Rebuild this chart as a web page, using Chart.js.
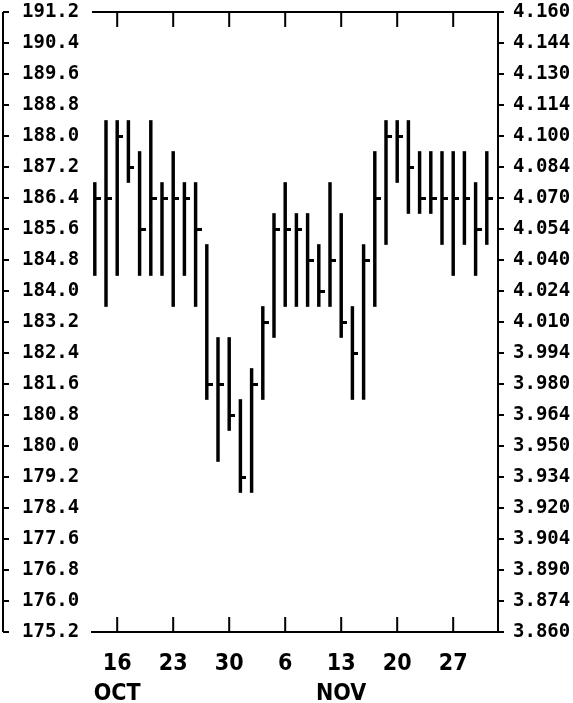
<!DOCTYPE html>
<html>
<head>
<meta charset="utf-8">
<script src="https://cdn.jsdelivr.net/npm/chart.js@4.4.1/dist/chart.umd.min.js"></script>
<style>
  html, body { margin: 0; padding: 0; background: #fff; }
  #wrap { width: 573px; height: 703px; position: relative; }
</style>
</head>
<body>
<div id="wrap"><canvas id="c" width="573" height="703"></canvas></div>
<script>
// Trading days (categories)
const days = ['10-12','10-13','10-16','10-17','10-18','10-19','10-20','10-23','10-24','10-25',
              '10-26','10-27','10-30','10-31','11-01','11-02','11-03','11-06','11-07','11-08',
              '11-09','11-10','11-13','11-14','11-15','11-16','11-17','11-20','11-21','11-22',
              '11-23','11-24','11-27','11-28','11-29','11-30'];
const highs = [186.8,188.4,188.4,188.4,187.6,188.4,186.8,187.6,186.8,186.8,
               185.2,182.8,182.8,181.2,182.0,183.6,186.0,186.8,186.0,186.0,
               185.2,186.8,186.0,183.6,185.2,187.6,188.4,188.4,188.4,187.6,
               187.6,187.6,187.6,187.6,186.8,187.6];
const lows  = [184.4,183.6,184.4,186.8,184.4,184.4,184.4,183.6,184.4,183.6,
               181.2,179.6,180.4,178.8,178.8,181.2,182.8,183.6,183.6,183.6,
               183.6,183.6,182.8,181.2,181.2,183.6,185.2,186.8,186.0,186.0,
               186.0,185.2,184.4,185.2,184.4,185.2];
const closes= [186.4,186.4,188.0,187.2,185.6,186.4,186.4,186.4,186.4,185.6,
               181.6,181.6,180.8,179.2,181.6,183.2,185.6,185.6,185.6,184.8,
               184.0,184.8,183.2,182.4,184.8,186.4,188.0,188.0,187.2,186.4,
               186.4,186.4,186.4,186.4,185.6,186.4];

// Axis tick labels
const leftTickLabels = ['175.2','176.0','176.8','177.6','178.4','179.2','180.0','180.8','181.6','182.4',
                        '183.2','184.0','184.8','185.6','186.4','187.2','188.0','188.8','189.6','190.4','191.2'];
const rightTickLabels = ['3.860','3.874','3.890','3.904','3.920','3.934','3.950','3.964','3.980','3.994',
                         '4.010','4.024','4.040','4.054','4.070','4.084','4.100','4.114','4.130','4.144','4.160'];
const xTickIndex = [2, 7, 12, 17, 22, 27, 32];
const xTickLabels = [['16','OCT'], ['23'], ['30'], ['6'], ['13','NOV'], ['20'], ['27']];

const leftMin = 175.2, leftMax = 191.2;
const rightMin = 3.860, rightMax = 4.160;

// close tick marker (right half filled)
const tick = document.createElement('canvas');
tick.width = 12; tick.height = 3;
(function(){ const t = tick.getContext('2d'); t.fillStyle = '#000'; t.fillRect(6, 0, 6, 3); })();

const monoFont = "'DejaVu Sans Mono', monospace";
const narrowFont = "'DejaVu Sans Condensed', sans-serif";

const frame = {
  id: 'frame',
  afterDraw(chart) {
    const ctx = chart.ctx, a = chart.chartArea;
    const xs = chart.scales.x, ys = chart.scales.y;
    ctx.save();
    ctx.strokeStyle = '#000';
    ctx.lineWidth = 2;
    // top border
    ctx.beginPath();
    ctx.moveTo(a.left, a.top); ctx.lineTo(a.right + 1, a.top);
    ctx.stroke();
    // inward ticks top & bottom
    ctx.beginPath();
    xs.ticks.forEach(t => {
      const px = xs.getPixelForValue(t.value);
      ctx.moveTo(px, a.top); ctx.lineTo(px, a.top + 15);
      ctx.moveTo(px, a.bottom); ctx.lineTo(px, a.bottom - 15);
    });
    ctx.stroke();
    // left axis bracket line with inward ticks
    const lx = 3;
    ctx.beginPath();
    ctx.moveTo(lx, ys.getPixelForValue(leftMax));
    ctx.lineTo(lx, ys.getPixelForValue(leftMin));
    ys.ticks.forEach(t => {
      const py = ys.getPixelForValue(t.value);
      ctx.moveTo(lx, py); ctx.lineTo(lx + 6, py);
    });
    ctx.stroke();
    ctx.restore();
  }
};

new Chart(document.getElementById('c'), {
  data: {
    datasets: [
      {
        type: 'bar',
        data: days.map((d, i) => ({ x: i, y: [lows[i], highs[i]] })),
        backgroundColor: '#000',
        borderWidth: 0,
        barThickness: 2.8,
        grouped: false,
        xAxisID: 'x', yAxisID: 'y'
      },
      {
        type: 'scatter',
        data: days.map((d, i) => ({ x: i, y: closes[i] })),
        pointStyle: tick,
        pointRadius: 3,
        xAxisID: 'x', yAxisID: 'y'
      }
    ]
  },
  options: {
    responsive: false,
    animation: false,
    devicePixelRatio: 1,
    layout: { padding: { top: 12, left: 22, right: 0, bottom: 0 } },
    plugins: { legend: { display: false }, tooltip: { enabled: false } },
    scales: {
      x: {
        type: 'linear',
        position: 'bottom',
        min: -0.25, max: 36,
        offset: false,
        grid: { display: false, offset: false },
        border: { display: true, color: '#000', width: 2 },
        afterBuildTicks: s => { s.ticks = xTickIndex.map(v => ({ value: v })); },
        afterFit: s => { s.height = 71; s.paddingLeft = 0; s.paddingRight = 0; },
        ticks: {
          autoSkip: false, maxRotation: 0, minRotation: 0,
          padding: 9,
          color: '#000',
          font: { family: narrowFont, size: 23, weight: 'bold', lineHeight: 1.3 },
          callback: (v, idx) => xTickLabels[idx]
        }
      },
      y: {
        position: 'left',
        min: leftMin, max: leftMax,
        grid: { display: false },
        border: { display: false },
        afterBuildTicks: s => { s.ticks = leftTickLabels.map(l => ({ value: parseFloat(l) })); },
        afterFit: s => { s.width = 70; s.paddingTop = 0; s.paddingBottom = 0; },
        ticks: {
          crossAlign: 'far',
          color: '#000',
          font: { family: monoFont, size: 19, weight: 'bold' },
          callback: (v, idx) => leftTickLabels[idx]
        }
      },
      y2: {
        position: 'right',
        min: rightMin, max: rightMax,
        grid: { display: true, drawOnChartArea: false, drawTicks: true, tickLength: 6, color: '#000', lineWidth: 2 },
        border: { display: true, color: '#000', width: 2 },
        afterBuildTicks: s => {
          s.ticks = rightTickLabels.map((l, k) => ({ value: rightMin + k * (rightMax - rightMin) / (rightTickLabels.length - 1) }));
        },
        afterFit: s => { s.width = 75; s.paddingTop = 0; s.paddingBottom = 0; },
        ticks: {
          padding: 9,
          color: '#000',
          font: { family: monoFont, size: 19, weight: 'bold' },
          callback: (v, idx) => rightTickLabels[idx]
        }
      }
    }
  },
  plugins: [frame]
});
</script>
</body>
</html>
